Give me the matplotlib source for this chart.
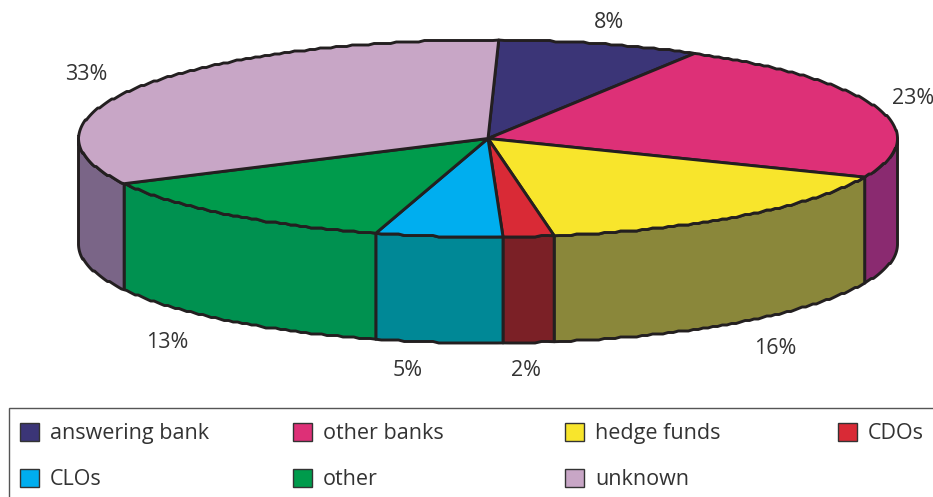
import numpy as np
import matplotlib.pyplot as plt
from matplotlib.patches import Polygon, Rectangle

plt.rcParams['font.family'] = ['Open Sans', 'DejaVu Sans']

names = ['answering bank', 'other banks', 'hedge funds', 'CDOs', 'CLOs', 'other', 'unknown']
shares = [8, 23, 16, 2, 5, 13, 33]
top_colors = ['#3b3577', '#dd3077', '#f8e52c', '#d92a36', '#00aeef', '#009b4c', '#c8a6c6']
side_colors = ['#2e2a5c', '#8a2a70', '#8a873a', '#7b2026', '#008896', '#009150', '#7a6587']
label_xy = [(609, 23), (913, 98), (775, 349), (526, 370), (408, 370), (167, 342), (86, 74)]

edge = '#231f20'
cx, cy, rx, ry, depth = 488, 138.5, 409.5, 98.5, 106
turn = 1.5


def rim(a0, a1, drop=0):
    # outline of the disc between two clockwise angles, stepped a little like a traced curve
    n = max(int((a1 - a0) / 0.8), 1) + 1
    t = np.radians(np.linspace(a0, a1, n))
    x = cx + rx * np.sin(t)
    y = cy - ry * np.cos(t)
    y[1:-1] = np.round(y[1:-1] / 1.5) * 1.5
    return np.column_stack([x, y + drop])


fig = plt.figure(figsize=(9.33, 4.97), dpi=100)
ax = fig.add_axes([0, 0, 1, 1])
ax.set_xlim(0, 933)
ax.set_ylim(497, 0)
ax.axis('off')

stops = turn + np.cumsum([0] + shares) * 3.6

# side wall, only the front half of the disc shows
for i in range(len(shares)):
    a0 = max(stops[i], 90)
    a1 = min(stops[i + 1], 270)
    if a1 <= a0:
        continue
    pts = np.vstack([rim(a0, a1), rim(a0, a1, depth)[::-1]])
    ax.add_patch(Polygon(pts, closed=True, fc=side_colors[i], ec=edge, lw=2.1, joinstyle='round'))

# top face
for i in range(len(shares)):
    pts = np.vstack([[cx, cy], rim(stops[i], stops[i + 1])])
    ax.add_patch(Polygon(pts, closed=True, fc=top_colors[i], ec=edge, lw=2.1, joinstyle='round'))

for s, (x, y) in zip(shares, label_xy):
    ax.text(x, y, f'{s}%', ha='center', va='center', fontsize=15.5, color='#333333')

# legend box runs off the right edge and the bottom
ax.add_patch(Rectangle((8.5, 407.5), 940, 100, fc='white', ec='#555555', lw=1, clip_on=True))
col_x = [20, 293, 565, 838]
row_y = [432, 478]
for i, name in enumerate(names):
    row = i // 4
    col = i % 4
    ax.add_patch(Rectangle((col_x[col], row_y[row] - 9), 19, 18, fc=top_colors[i], ec='#333333', lw=1))
    ax.text(col_x[col] + 30, row_y[row] + 1.5, name, ha='left', va='center', fontsize=15.5, color='#333333')

fig.savefig('out.png', dpi=100)
